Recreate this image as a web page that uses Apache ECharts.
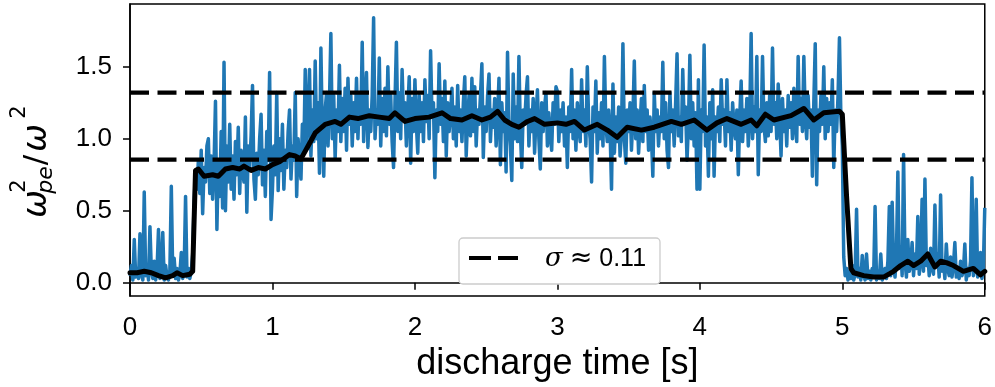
<!DOCTYPE html>
<html><head><meta charset="utf-8">
<script src="https://cdn.jsdelivr.net/npm/echarts@6/dist/echarts.min.js"></script>
<style>html,body{margin:0;padding:0;background:#fff}#c{width:995px;height:387px}</style>
</head><body><div id="c"></div><script>
// raw signal: sampled every blueStep seconds starting at blueStart
const blueStart = 0;
const blueStep = 0.01;
const blueValues = [
0.05,0.12,0.02,0.30,0.04,0.10,0.03,0.34,0.06,0.02,
0.63,0.05,0.12,0.02,0.39,0.08,0.03,0.15,0.02,0.10,
0.37,0.03,0.08,0.35,0.02,0.12,0.04,0.02,0.09,0.67,
0.05,0.17,0.03,0.10,0.02,0.06,0.21,0.03,0.08,0.60,
0.04,0.10,0.03,0.08,0.20,0.55,0.78,0.65,0.85,0.62,
0.92,0.48,0.80,0.70,0.95,1.00,0.62,0.88,0.58,0.82,
1.26,0.37,0.85,0.60,1.05,0.52,1.53,0.50,0.95,0.70,
1.10,0.65,0.88,0.58,0.98,0.75,1.08,0.62,0.92,0.78,
0.70,1.15,0.49,0.95,0.80,1.02,1.37,0.72,0.58,0.90,
0.75,1.00,1.17,0.68,0.92,0.60,1.05,0.85,1.46,0.44,
0.65,0.95,0.75,1.32,0.64,1.00,0.78,1.10,0.65,0.92,
0.80,1.05,1.20,0.72,0.95,0.85,1.32,0.60,1.00,0.82,
0.72,1.10,0.90,1.48,0.95,1.15,1.48,0.88,1.20,0.98,
1.54,1.00,1.25,0.76,1.63,1.05,0.74,1.20,1.32,0.95,
1.25,1.73,1.00,1.30,0.86,1.20,1.05,1.51,0.98,1.28,
1.05,1.35,0.92,1.42,1.10,1.30,0.95,1.25,1.05,1.42,
1.00,1.30,1.10,1.67,0.98,1.25,1.46,0.94,1.20,1.05,
1.30,1.84,1.00,1.20,1.10,1.56,0.95,1.28,1.05,1.35,
1.02,1.50,1.10,1.30,0.98,0.80,1.25,1.67,1.05,1.32,
1.00,1.48,1.15,1.25,0.95,1.20,1.43,0.83,1.28,1.05,
1.41,1.10,0.90,1.30,1.05,1.25,0.98,1.41,1.12,1.30,
1.00,1.61,1.15,1.25,0.73,1.20,1.05,1.52,1.10,1.28,
0.98,1.40,0.88,1.25,1.05,1.18,1.35,1.00,1.22,0.95,
1.37,1.05,1.20,0.98,1.25,1.43,0.88,1.15,1.30,1.02,
1.42,1.05,1.36,0.95,1.20,1.10,1.30,1.52,0.87,1.22,
1.05,1.30,1.45,0.98,1.20,1.08,1.28,0.95,1.15,1.42,
0.82,1.25,1.05,1.18,0.77,1.60,1.10,0.95,0.71,1.45,
1.00,1.22,0.98,1.57,1.05,0.80,1.20,1.10,1.30,1.43,
0.95,1.20,1.05,1.28,0.90,1.15,1.34,1.00,0.79,1.25,
1.05,1.22,1.32,0.95,1.18,1.02,0.92,1.25,1.10,1.36,
1.33,0.98,1.20,1.05,1.25,0.95,1.15,0.80,1.22,1.05,
1.48,1.00,1.20,0.92,1.25,1.08,0.98,1.41,1.05,1.20,
0.95,1.50,1.10,1.00,0.70,1.22,1.05,1.40,0.90,1.18,
1.00,1.25,0.95,1.57,1.10,0.98,1.20,1.05,0.65,1.38,
0.90,1.15,0.98,1.22,0.88,1.05,1.66,1.00,0.83,1.20,
1.05,1.25,0.92,1.15,1.54,1.00,1.20,0.90,1.10,1.28,
0.98,1.37,1.05,1.20,0.92,1.15,1.02,0.74,1.32,1.05,
1.20,0.95,1.15,1.05,1.53,1.00,1.25,0.92,0.80,1.32,
1.05,1.20,0.95,1.25,1.59,1.02,1.15,0.98,1.48,1.10,
1.22,0.85,1.10,1.58,1.00,1.25,0.95,1.18,0.65,1.41,
0.65,1.20,1.05,1.65,0.95,1.15,0.74,1.25,1.00,1.34,
0.74,1.15,1.05,1.22,0.98,1.41,1.10,1.20,0.95,1.41,
1.05,1.18,0.92,1.25,1.08,1.00,1.20,0.75,1.15,1.40,
0.98,1.20,1.05,1.28,0.95,1.15,1.73,1.00,1.22,1.05,
1.57,0.75,1.20,1.05,1.57,1.10,0.98,1.25,1.02,1.30,
1.05,1.63,1.10,1.25,1.00,1.38,1.15,0.88,1.28,1.05,
1.20,0.95,1.30,1.08,1.25,1.00,1.35,1.10,0.98,1.57,
1.10,1.28,1.05,1.57,1.15,1.00,1.30,1.08,1.20,0.74,
1.25,1.66,0.68,1.20,1.05,1.30,1.10,1.50,1.00,1.28,
1.05,1.25,1.10,1.41,0.80,1.20,1.05,1.30,1.70,1.15,
0.95,0.18,0.05,0.10,0.02,0.08,0.03,0.12,0.02,0.06,
0.51,0.04,0.10,0.02,0.19,0.05,0.02,0.20,0.03,0.08,
0.02,0.10,0.04,0.53,0.02,0.08,0.03,0.20,0.02,0.06,
0.10,0.03,0.15,0.53,0.05,0.56,0.12,0.04,0.20,0.77,
0.10,0.25,0.05,0.89,0.15,0.04,0.30,0.08,0.12,0.28,
0.05,0.20,0.10,0.46,0.06,0.15,0.58,0.08,0.72,0.12,
0.20,0.05,0.24,0.10,0.06,0.54,0.12,0.20,0.04,0.61,
0.08,0.15,0.03,0.27,0.10,0.05,0.18,0.04,0.12,0.28,
0.04,0.10,0.03,0.15,0.05,0.08,0.27,0.02,0.10,0.05,
0.15,0.73,0.05,0.10,0.58,0.04,0.08,0.21,0.03,0.10,
0.52
];
// smoothed signal
const smoothTimes = [0.00,0.05,0.10,0.15,0.20,0.25,0.30,0.33,0.37,0.42,0.44,0.46,0.48,0.52,0.58,0.62,0.67,0.72,0.77,0.80,0.85,0.90,0.95,1.00,1.05,1.12,1.16,1.20,1.25,1.30,1.37,1.44,1.48,1.54,1.60,1.68,1.75,1.82,1.86,1.93,2.00,2.10,2.19,2.25,2.33,2.40,2.47,2.53,2.58,2.63,2.68,2.73,2.79,2.84,2.91,3.00,3.06,3.12,3.19,3.28,3.35,3.42,3.49,3.59,3.68,3.80,3.87,3.96,4.05,4.12,4.19,4.29,4.36,4.40,4.46,4.52,4.64,4.73,4.80,4.87,4.98,5.00,5.03,5.06,5.08,5.15,5.22,5.29,5.36,5.41,5.46,5.50,5.55,5.60,5.65,5.69,5.73,5.78,5.85,5.92,5.97,6.00];
const smoothValues = [0.07,0.07,0.08,0.07,0.05,0.035,0.05,0.07,0.05,0.06,0.08,0.78,0.79,0.74,0.75,0.74,0.79,0.80,0.79,0.81,0.78,0.80,0.79,0.82,0.84,0.89,0.88,0.86,0.95,1.04,1.10,1.12,1.10,1.15,1.14,1.16,1.15,1.14,1.18,1.12,1.14,1.15,1.18,1.14,1.13,1.16,1.13,1.15,1.19,1.13,1.10,1.08,1.12,1.14,1.10,1.11,1.10,1.12,1.06,1.10,1.06,1.01,1.08,1.06,1.08,1.12,1.10,1.13,1.06,1.11,1.14,1.10,1.13,1.09,1.17,1.13,1.16,1.21,1.13,1.18,1.19,1.17,0.60,0.10,0.07,0.05,0.04,0.04,0.08,0.12,0.15,0.12,0.15,0.20,0.11,0.15,0.14,0.12,0.08,0.10,0.055,0.08];
const sigmaLevels = [1.32, 0.855];
const legendLabel = '{i|σ} {m|≈} 0.11';
const xTicks = [0, 1, 2, 3, 4, 5, 6];
const yTicks = [0, 0.5, 1.0, 1.5];
const xName = 'discharge time [s]';

const bluePairs = blueValues.map((v, i) => [+(blueStart + i * blueStep).toFixed(4), v]);
const smoothPairs = smoothTimes.map((t, i) => [t, smoothValues[i]]);

const chart = echarts.init(document.getElementById('c'), null, {renderer: 'canvas'});
const tickFont = 'Liberation Sans';
const sigmaSeries = sigmaLevels.map(lv => ({
  type: 'line', name: 'sigma', data: [[0, lv], [6, lv]], showSymbol: false, z: 3,
  lineStyle: {color: '#000', width: 4.2, type: [19, 8.5]}, silent: true
}));
const yl = (text, x, y, size, italic) => ({
  type: 'text', x, y, rotation: Math.PI / 2, silent: true,
  style: {text, fill: '#000', fontSize: size, fontFamily: 'DejaVu Sans', fontStyle: italic ? 'italic' : 'normal', align: 'center', verticalAlign: 'middle'}
});
chart.setOption({
  animation: false,
  backgroundColor: '#fff',
  grid: {left: 130, right: 7, top: 4, bottom: 90, show: true, borderColor: '#000', borderWidth: 1.5},
  xAxis: {
    type: 'value', min: 0, max: 6, interval: 1,
    name: xName, nameLocation: 'middle', nameGap: 40,
    nameTextStyle: {fontSize: 36, fontFamily: tickFont, color: '#000'},
    axisLine: {show: true, lineStyle: {color: '#000', width: 1.5}},
    axisTick: {show: true, length: 7, lineStyle: {color: '#000', width: 1.5}},
    axisLabel: {fontSize: 26, fontFamily: tickFont, color: '#000', margin: 19, formatter: v => String(v)},
    splitLine: {show: false}
  },
  yAxis: {
    type: 'value', min: -0.092, max: 1.935,
    axisLine: {show: true, lineStyle: {color: '#000', width: 1.5}},
    axisTick: {show: true, length: 7, customValues: yTicks, lineStyle: {color: '#000', width: 1.5}},
    axisLabel: {fontSize: 26, fontFamily: tickFont, color: '#000', margin: 18, customValues: yTicks, formatter: v => v.toFixed(1)},
    splitLine: {show: false}
  },
  series: [
    {type: 'line', name: 'signal', data: bluePairs, showSymbol: false, z: 2,
     lineStyle: {color: '#1f77b4', width: 3.5, join: 'round'}, silent: true},
    ...sigmaSeries,
    {type: 'line', name: 'smooth', data: smoothPairs, showSymbol: false, z: 4,
     lineStyle: {color: '#000', width: 5, join: 'round', cap: 'round'}, silent: true}
  ],
  graphic: [
    {type: 'rect', shape: {x: 459, y: 238, width: 201, height: 46, r: 4}, z: 100,
     style: {fill: '#fff', stroke: '#cccccc', lineWidth: 1.3}},
    {type: 'line', shape: {x1: 469, y1: 258, x2: 518, y2: 258}, z: 101,
     style: {stroke: '#000', lineWidth: 4.2, lineDash: [22, 7]}},
    {type: 'text', x: 545, y: 259, z: 101,
     style: {text: legendLabel, fill: '#000', fontSize: 25, fontFamily: tickFont, verticalAlign: 'middle', align: 'left',
       rich: {i: {fontStyle: 'italic', fontFamily: 'DejaVu Serif', fontSize: 26},
              m: {fontFamily: 'DejaVu Sans', fontSize: 27}}}},
    yl('ω', 37, 204, 33, true),
    yl('2', 20, 186, 21, false),
    yl('pe', 46, 180, 22, true),
    yl('/', 37, 160, 31, false),
    yl('ω', 37, 138, 33, true),
    yl('2', 20, 112, 21, false)
  ]
});
</script></body></html>
